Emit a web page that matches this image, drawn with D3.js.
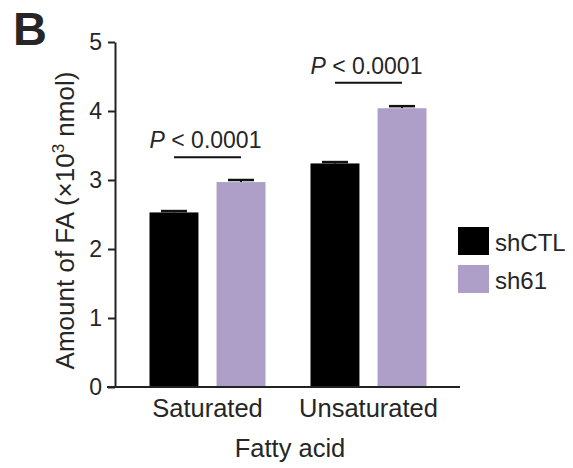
<!DOCTYPE html>
<html>
<head>
<meta charset="utf-8">
<script src="https://cdn.jsdelivr.net/npm/d3@7"></script>
<style>
  body { margin: 0; background: #fff; }
  text { font-family: Arial, "Liberation Sans", Helvetica, sans-serif; fill: #262626; }
</style>
</head>
<body>
<div id="chart"></div>
<script>
// data
const categories = ['Saturated', 'Unsaturated'];
const series = ['shCTL', 'sh61'];
const shCTL = [2.53, 3.24];
const sh61 = [2.97, 4.04];
const shCTLErr = [0.02, 0.02];
const sh61Err = [0.03, 0.03];
const pLabels = ['P < 0.0001', 'P < 0.0001'];
const sigLevel = [3.33, 4.41];
const yTicks = [0, 1, 2, 3, 4, 5];

const colors = { shCTL: '#000000', sh61: '#ad9fc7' };

const width = 573;
const height = 468;
const margin = { top: 42, right: 124, bottom: 81, left: 115 };

const svg = d3.select('div#chart').append('svg').attr('width', width).attr('height', height);

// scales
const y = d3.scaleLinear().domain([0, 5]).range([height - margin.bottom, margin.top]);
const x0 = d3.scaleBand().domain(categories).range([127, 449]).padding(0);
const x1 = d3.scaleBand().domain(series).range([22.5, x0.bandwidth() - 22.5]).paddingInner(0.27);

const rows = categories.map((c, i) => ({
    cat: c,
    vals: [
        { key: 'shCTL', v: shCTL[i], e: shCTLErr[i] },
        { key: 'sh61', v: sh61[i], e: sh61Err[i] },
    ],
}));

// bars
const groups = svg.append('g').attr('class', 'bars')
    .selectAll('g').data(rows).enter().append('g')
    .attr('transform', d => `translate(${x0(d.cat)},0)`);

// error bars (behind the bar, only the upper half shows)
groups.selectAll('g.err').data(d => d.vals).enter().append('g').attr('class', 'err')
    .each(function(d) {
        const g = d3.select(this);
        const cx = x1(d.key) + x1.bandwidth() / 2;
        g.append('line').attr('x1', cx).attr('x2', cx)
            .attr('y1', y(d.v)).attr('y2', y(d.v + d.e))
            .attr('stroke', '#111').attr('stroke-width', 2);
        g.append('line').attr('x1', cx - 13).attr('x2', cx + 13)
            .attr('y1', y(d.v + d.e)).attr('y2', y(d.v + d.e))
            .attr('stroke', '#111').attr('stroke-width', 2.5);
    });

groups.selectAll('rect').data(d => d.vals).enter().append('rect')
    .attr('x', d => x1(d.key))
    .attr('y', d => y(d.v))
    .attr('width', x1.bandwidth())
    .attr('height', d => y(0) - y(d.v))
    .attr('fill', d => colors[d.key]);

// y axis
const yAxis = d3.axisLeft(y).tickValues(yTicks).tickFormat(d3.format('d')).tickSize(7).tickSizeOuter(0).tickPadding(6);
const yAxisGroup = svg.append('g').attr('transform', `translate(${margin.left},0)`).call(yAxis);
yAxisGroup.select('.domain').attr('stroke', '#222').attr('stroke-width', 2);
yAxisGroup.selectAll('.tick line').attr('stroke', '#222').attr('stroke-width', 2);
yAxisGroup.selectAll('.tick text')
    .style('font-family', 'Arial, "Liberation Sans", sans-serif')
    .style('font-size', '23px').attr('fill', '#262626');

// x axis
const xAxis = d3.axisBottom(x0).tickSize(0).tickPadding(12);
const xAxisGroup = svg.append('g').attr('transform', `translate(0,${y(0)})`).call(xAxis);
xAxisGroup.select('.domain').attr('d', `M${margin.left - 8},0H${width - 113}`)
    .attr('stroke', '#222').attr('stroke-width', 2);
xAxisGroup.selectAll('.tick text')
    .style('font-family', 'Arial, "Liberation Sans", sans-serif')
    .style('font-size', '25.5px').attr('fill', '#262626');

// axis titles
svg.append('text')
    .attr('transform', `translate(${(127 + 449) / 2 + 2},${height - 11})`)
    .attr('text-anchor', 'middle').style('font-size', '25.5px')
    .text('Fatty acid');

const yTitle = svg.append('text')
    .attr('transform', `translate(74,${(y(0) + y(5)) / 2 + 6}) rotate(-90)`)
    .attr('text-anchor', 'middle').style('font-size', '26px');
yTitle.append('tspan').text('Amount of FA (×10');
yTitle.append('tspan').attr('dy', -10).style('font-size', '17px').text('3');
yTitle.append('tspan').attr('dy', 10).text(' nmol)');

// significance annotations
const sig = svg.append('g').attr('class', 'sig');
categories.forEach((c, i) => {
    const xa = x0(c) + x1('shCTL') + x1.bandwidth() / 2;
    const xb = x0(c) + x1('sh61') + x1.bandwidth() / 2;
    sig.append('line').attr('x1', xa).attr('x2', xb)
        .attr('y1', y(sigLevel[i])).attr('y2', y(sigLevel[i]))
        .attr('stroke', '#111').attr('stroke-width', 2);
    const t = sig.append('text')
        .attr('x', (xa + xb) / 2 - 2).attr('y', y(sigLevel[i]) - 9)
        .attr('text-anchor', 'middle').style('font-size', '23px');
    const parts = pLabels[i].split(' ');
    t.append('tspan').style('font-style', 'italic').text(parts[0]);
    t.append('tspan').text(' ' + parts.slice(1).join(' '));
});

// legend
const legend = svg.append('g').attr('transform', 'translate(458,227)');
series.forEach((s, i) => {
    const row = legend.append('g').attr('transform', `translate(0,${i * 38})`);
    row.append('rect').attr('width', 31).attr('height', 28).attr('fill', colors[s]);
    row.append('text').attr('x', 37).attr('y', 24).style('font-size', '24px').text(s);
});

// panel letter
svg.append('text').attr('x', 13).attr('y', 45)
    .style('font-size', '47px').style('font-weight', 'bold').attr('fill', '#000')
    .text('B');
</script>
</body>
</html>
